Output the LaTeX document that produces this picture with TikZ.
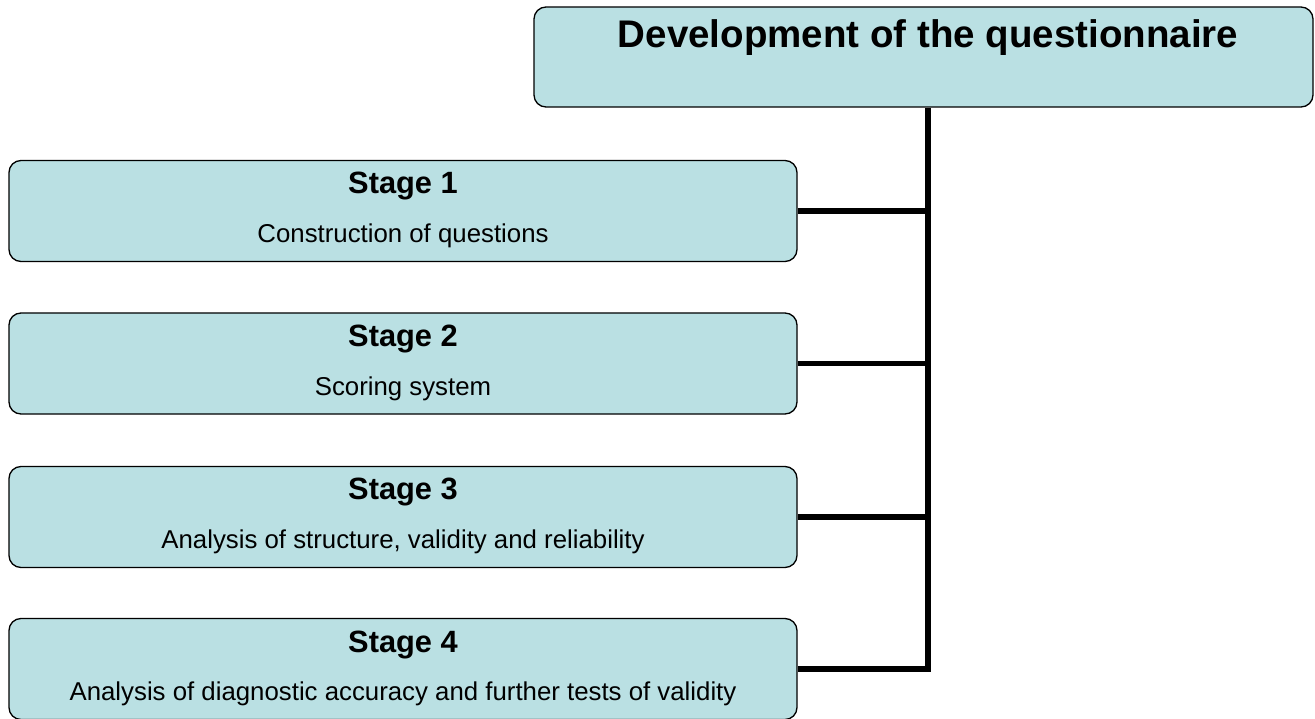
\documentclass[tikz,border=0pt]{standalone}
\usepackage{fontspec}
\setmainfont{Liberation Sans}
\definecolor{boxfill}{RGB}{186,224,227}
\begin{document}
\begin{tikzpicture}[x=1pt,y=-1pt,
  box/.style={draw=black,line width=1.3pt,fill=boxfill,rounded corners=12pt,inner sep=0pt},
  stagebox/.style={box,minimum width=788pt,minimum height=101pt},
  headtxt/.style={font=\fontsize{38.5}{40}\selectfont\bfseries,inner sep=0pt},
  stagetxt/.style={font=\fontsize{30.8}{32}\selectfont\bfseries,inner sep=0pt},
  subtxt/.style={font=\fontsize{25.8}{28}\selectfont,inner sep=0pt},
  link/.style={line width=5.5pt,line join=miter}]
\useasboundingbox (0,0) rectangle (1315,719);
\node[box,minimum width=779pt,minimum height=100pt] (top) at (923.5,57) {};
\node[headtxt] (toptxt) at (928,38) {Development of the questionnaire};

\node[stagebox] (s1) at (403,211) {};
\node[stagetxt] (s1a) at (403,186) {Stage 1};
\node[subtxt] (s1b) at (403,236) {Construction of questions};

\node[stagebox] (s2) at (403,363.5) {};
\node[stagetxt] (s2a) at (403,339) {Stage 2};
\node[subtxt] (s2b) at (403,389) {Scoring system};

\node[stagebox] (s3) at (403,517) {};
\node[stagetxt] (s3a) at (403,492) {Stage 3};
\node[subtxt] (s3b) at (403,542) {Analysis of structure, validity and reliability};

\node[stagebox] (s4) at (403,669) {};
\node[stagetxt] (s4a) at (403,645) {Stage 4};
\node[subtxt] (s4b) at (403,694) {Analysis of diagnostic accuracy and further tests of validity};

\coordinate (tr) at ([xshift=4.5pt]top.south);
\draw[link] (tr) |- (s4.east);
\draw[link] (s1.east) -- (s1.east -| tr);
\draw[link] (s2.east) -- (s2.east -| tr);
\draw[link] (s3.east) -- (s3.east -| tr);
\end{tikzpicture}
\end{document}
